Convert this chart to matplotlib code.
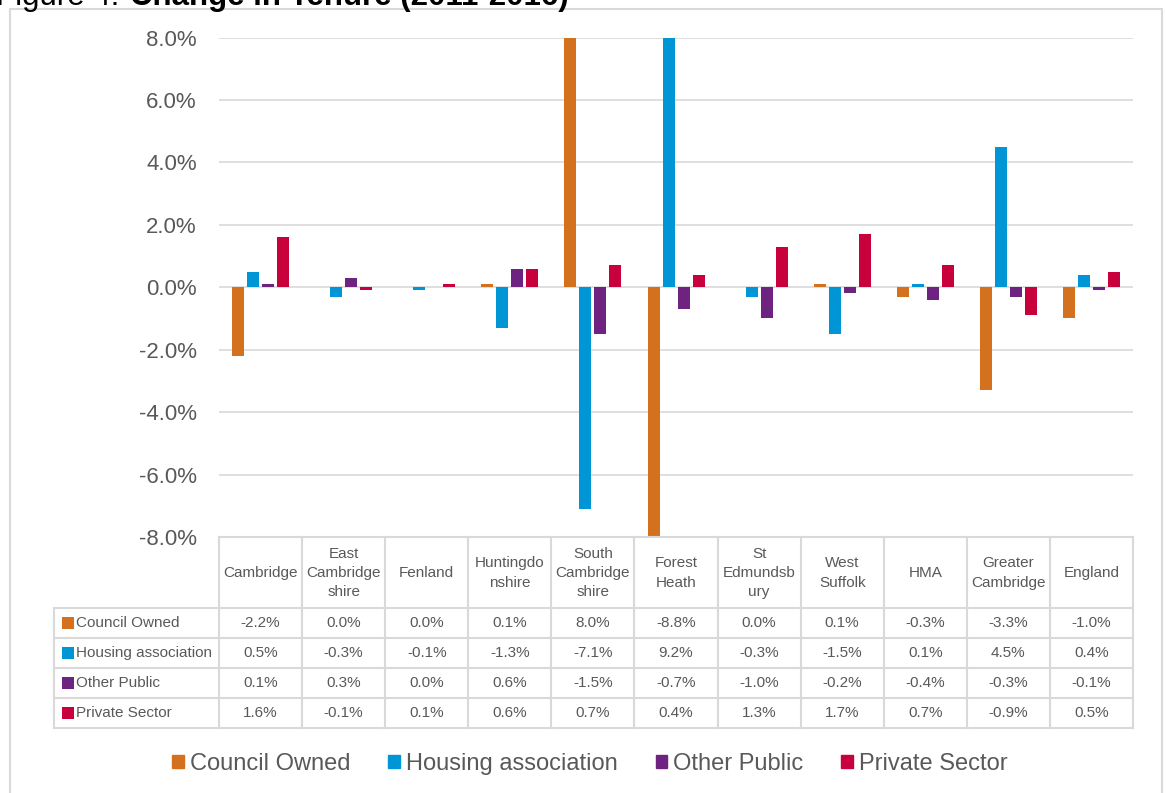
import numpy as np
import matplotlib
matplotlib.use("Agg")
import matplotlib.pyplot as plt
from matplotlib.lines import Line2D
from matplotlib.patches import Rectangle, Patch

areas = ["Cambridge", "East\nCambridge\nshire", "Fenland", "Huntingdo\nnshire",
         "South\nCambridge\nshire", "Forest\nHeath", "St\nEdmundsb\nury",
         "West\nSuffolk", "HMA", "Greater\nCambridge", "England"]
series = ["Council Owned", "Housing association", "Other Public", "Private Sector"]
council_owned = [-2.2, 0.0, 0.0, 0.1, 8.0, -8.8, 0.0, 0.1, -0.3, -3.3, -1.0]
housing_assoc = [0.5, -0.3, -0.1, -1.3, -7.1, 9.2, -0.3, -1.5, 0.1, 4.5, 0.4]
other_public = [0.1, 0.3, 0.0, 0.6, -1.5, -0.7, -1.0, -0.2, -0.4, -0.3, -0.1]
private_sector = [1.6, -0.1, 0.1, 0.6, 0.7, 0.4, 1.3, 1.7, 0.7, -0.9, 0.5]
colors = ["#D4711F", "#0096D6", "#6F2381", "#C8003C"]
yticks = [-8, -6, -4, -2, 0, 2, 4, 6, 8]

W, H = 1166, 793
GREY = "#595959"
LINE = "#D9D9D9"
TFS = 11  # table font size

plt.rcParams["font.family"] = ["Liberation Sans", "DejaVu Sans"]

def fx(x):
    return x / W

def fy(y):
    return 1 - y / H

fig = plt.figure(figsize=(W / 100, H / 100), dpi=100)

# outer frame
fig.add_artist(Rectangle((fx(9.5), fy(805)), fx(1162) - fx(9.5), fy(9) - fy(805),
                         transform=fig.transFigure, fill=False, ec=LINE, lw=1.5))

# title (top is cut off in the source)
fig.text(fx(-4), fy(5), "Figure 4: ", fontsize=22.5, va="baseline", ha="left", color="black")
fig.text(fx(130), fy(5), "Change in Tenure (2011-2016)", fontsize=22.5, fontweight="bold",
         va="baseline", ha="left", color="black")

left, right, top, bottom = 219, 1133, 37.5, 537
ax = fig.add_axes([fx(left), fy(bottom), fx(right) - fx(left), fy(top) - fy(bottom)])
n = len(areas)
x = np.arange(n) + 0.5
colw = (right - left) / n
step = 15 / colw
bw = 12 / colw
data = [council_owned, housing_assoc, other_public, private_sector]
for i, (vals, c) in enumerate(zip(data, colors)):
    ax.bar(x + (i - 1.5) * step, vals, width=bw, color=c, zorder=3)
ax.set_xlim(0, n)
ax.set_ylim(-8, 8)
ax.set_yticks(yticks)
ax.set_yticklabels(["%.1f%%" % v for v in yticks])
ax.set_xticks([])
ax.grid(axis="y", color=LINE, lw=1.2, zorder=0)
for s in ax.spines.values():
    s.set_visible(False)
ax.tick_params(axis="y", length=0, pad=16, labelsize=16, labelcolor=GREY)

# data table
row_y = [608, 638, 668, 698, 728]
tleft = 54
for k in range(n + 1):
    xx = left + k * colw
    fig.add_artist(Line2D([fx(xx), fx(xx)], [fy(537), fy(728)], transform=fig.transFigure,
                          color=LINE, lw=1.5))
fig.add_artist(Line2D([fx(tleft), fx(tleft)], [fy(608), fy(728)], transform=fig.transFigure,
                      color=LINE, lw=1.5))
fig.add_artist(Line2D([fx(left), fx(right)], [fy(537), fy(537)], transform=fig.transFigure,
                      color=LINE, lw=1.5))
for yy in row_y:
    fig.add_artist(Line2D([fx(tleft), fx(right)], [fy(yy), fy(yy)], transform=fig.transFigure,
                          color=LINE, lw=1.5))

for k, name in enumerate(areas):
    fig.text(fx(left + (k + 0.5) * colw), fy(573), name, ha="center", va="center",
             fontsize=TFS, color=GREY, linespacing=1.48)

for r, (s, vals, c) in enumerate(zip(series, data, colors)):
    yc = (row_y[r] + row_y[r + 1]) / 2
    fig.add_artist(Rectangle((fx(62), fy(yc + 6)), fx(12), 12 / H, transform=fig.transFigure,
                             color=c, lw=0))
    fig.text(fx(76), fy(yc), s, ha="left", va="center", fontsize=TFS, color=GREY)
    for k, v in enumerate(vals):
        fig.text(fx(left + (k + 0.5) * colw), fy(yc), "%.1f%%" % v, ha="center", va="center",
                 fontsize=TFS, color=GREY)

handles = [Patch(color=c, label=s) for s, c in zip(series, colors)]
fig.legend(handles=handles, loc="center", bbox_to_anchor=(fx(590), fy(764)), ncol=4,
           frameon=False, fontsize=17, handlelength=0.5, handleheight=0.5,
           handletextpad=0.25, columnspacing=1.6, labelcolor=GREY)

fig.savefig("out.png", dpi=100)
